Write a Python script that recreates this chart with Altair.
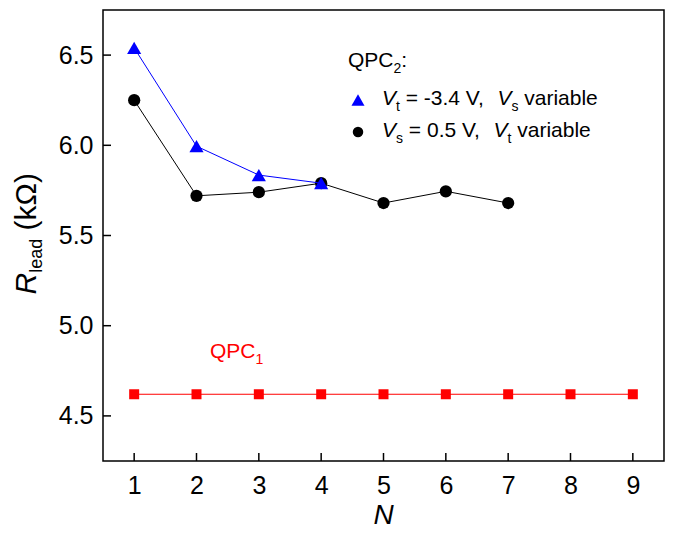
import altair as alt
import pandas as pd

# ---------------- data ----------------
N_qpc1 = [1, 2, 3, 4, 5, 6, 7, 8, 9]
R_qpc1 = [4.62, 4.62, 4.62, 4.62, 4.62, 4.62, 4.62, 4.62, 4.62]

N_vs_fixed = [1, 2, 3, 4, 5, 6, 7]          # Vs = 0.5 V, Vt variable (black circles)
R_vs_fixed = [6.25, 5.72, 5.74, 5.79, 5.68, 5.745, 5.68]

N_vt_fixed = [1, 2, 3, 4]                   # Vt = -3.4 V, Vs variable (blue triangles)
R_vt_fixed = [6.54, 5.995, 5.835, 5.79]

x_ticks = [1, 2, 3, 4, 5, 6, 7, 8, 9]
y_ticks = [4.5, 5.0, 5.5, 6.0, 6.5]
x_domain = [0.5, 9.5]
y_domain = [4.25, 6.75]

# ---------------- layout ----------------
FONT = "Liberation Sans"
W, H = 561, 451

ARIAL = {' ': 278, '=': 584, '-': 333, '.': 278, ',': 278, ':': 278, '(': 333, ')': 333,
         'V': 667, 'Q': 778, 'P': 667, 'C': 722, 'R': 722, 'N': 722,
         'a': 556, 'b': 556, 'd': 556, 'e': 556, 'i': 222, 'k': 500, 'l': 222,
         'r': 333, 's': 500, 't': 278, 'v': 500, 'Ω': 768}


def tw(s, size):
    return sum(ARIAL.get(c, 556) for c in s) * size / 1000.0


X_AX = alt.Axis(values=x_ticks, title=None, ticks=False, tickSize=0, domain=False, grid=False,
                labelFontSize=25, labelFont=FONT, labelColor="black", labelPadding=12,
                format="d")
Y_AX = alt.Axis(values=y_ticks, title=None, ticks=False, tickSize=0, domain=False, grid=False,
                labelFontSize=25, labelFont=FONT, labelColor="black", labelPadding=10,
                format=".1f")


def X(field="N"):
    return alt.X(f"{field}:Q", scale=alt.Scale(domain=x_domain, nice=False, zero=False), axis=X_AX)


def Y(field="R"):
    return alt.Y(f"{field}:Q", scale=alt.Scale(domain=y_domain, nice=False, zero=False), axis=Y_AX)


def series(ns, rs, color, shape, size):
    df = pd.DataFrame({"N": ns, "R": rs})
    base = alt.Chart(df)
    line = base.mark_line(color=color, strokeWidth=1).encode(x=X(), y=Y())
    pts = base.mark_point(shape=shape, filled=True, color=color, size=size, opacity=1).encode(x=X(), y=Y())
    return [line, pts]


def run(pieces, xd, yd, color="black"):
    """pieces: (text, size, italic, subscript) chained left to right at a data anchor."""
    out = []
    off = 0.0
    for s, size, italic, sub in pieces:
        body = s.lstrip(" ")
        lead = tw(s[:len(s) - len(body)], size)
        body = body.rstrip(" ")
        df = pd.DataFrame({"t": [body], "N": [xd], "R": [yd]})
        out.append(alt.Chart(df).mark_text(
            align="left", baseline="alphabetic", font=FONT, fontSize=size,
            fontStyle="italic" if italic else "normal", color=color,
            dx=off + lead, dy=6 if sub else 0).encode(x=X(), y=Y(), text="t:N"))
        off += tw(s, size)
    return out


layers = []
# frame ticks (inward)
layers.append(alt.Chart(pd.DataFrame({"N": x_ticks})).mark_rule(color="black", strokeWidth=1.5)
              .encode(x=X(), y=alt.value(H - 8), y2=alt.value(H)))
layers.append(alt.Chart(pd.DataFrame({"R": y_ticks})).mark_rule(color="black", strokeWidth=1.5)
              .encode(y=Y(), x=alt.value(0), x2=alt.value(8)))

layers += series(N_qpc1, R_qpc1, "#FF0000", "square", 100)
layers += series(N_vs_fixed, R_vs_fixed, "#000000", "circle", 150)
layers += series(N_vt_fixed, R_vt_fixed, "#0000FF", "triangle-up", 200)

# QPC1 label
layers += run([("QPC", 21, False, False), ("1", 14, False, True)], 2.217, 4.821, "#FF0000")

# legend block
layers += run([("QPC", 21, False, False), ("2", 14, False, True), (":", 21, False, False)], 4.43, 6.434)
layers += run([("V", 21, True, False), ("t", 14, False, True), (" = -3.4 V,  ", 21, False, False),
               ("V", 21, True, False), ("s", 14, False, True), (" variable", 21, False, False)],
              4.976, 6.221)
layers += run([("V", 21, True, False), ("s", 14, False, True), (" = 0.5 V,  ", 21, False, False),
               ("V", 21, True, False), ("t", 14, False, True), (" variable", 21, False, False)],
              4.976, 6.046)
layers.append(alt.Chart(pd.DataFrame({"N": [4.591], "R": [6.251]})).mark_point(
    shape="triangle-up", filled=True, color="#0000FF", size=170, opacity=1).encode(x=X(), y=Y()))
layers.append(alt.Chart(pd.DataFrame({"N": [4.591], "R": [6.074]})).mark_point(
    shape="circle", filled=True, color="#000000", size=110, opacity=1).encode(x=X(), y=Y()))

# y-axis title: R_lead (kΩ), rotated
yt_pieces = [("R", 30, True, False), ("lead", 18, False, True), (" (kΩ)", 30, False, False)]
total = sum(tw(s, sz) for s, sz, _, _ in yt_pieces)
start_y = 223.5 + total / 2
off = 0.0
for s, sz, it, sub in yt_pieces:
    body = s.lstrip(" ")
    lead = tw(s[:len(s) - len(body)], sz)
    layers.append(alt.Chart(pd.DataFrame({"t": [body]})).mark_text(
        align="left", baseline="alphabetic", font=FONT, fontSize=sz, angle=270,
        fontStyle="italic" if it else "normal", color="black",
        dx=off + lead, dy=6 if sub else 0).encode(x=alt.value(-67), y=alt.value(start_y), text="t:N"))
    off += tw(s, sz)

# x-axis title: N
layers.append(alt.Chart(pd.DataFrame({"t": ["N"]})).mark_text(
    align="center", baseline="alphabetic", font=FONT, fontSize=28, fontStyle="italic",
    color="black").encode(x=alt.value(W / 2), y=alt.value(H + 63), text="t:N"))

chart = alt.layer(*layers).properties(
    width=W, height=H,
    background="white",
    autosize=alt.AutoSizeParams(type="none"),
    padding={"left": 95, "top": 2, "right": 1, "bottom": 70},
).configure_view(stroke="black", strokeWidth=1.5)

chart.save("out.html", embed_options={"renderer": "svg", "actions": False})
